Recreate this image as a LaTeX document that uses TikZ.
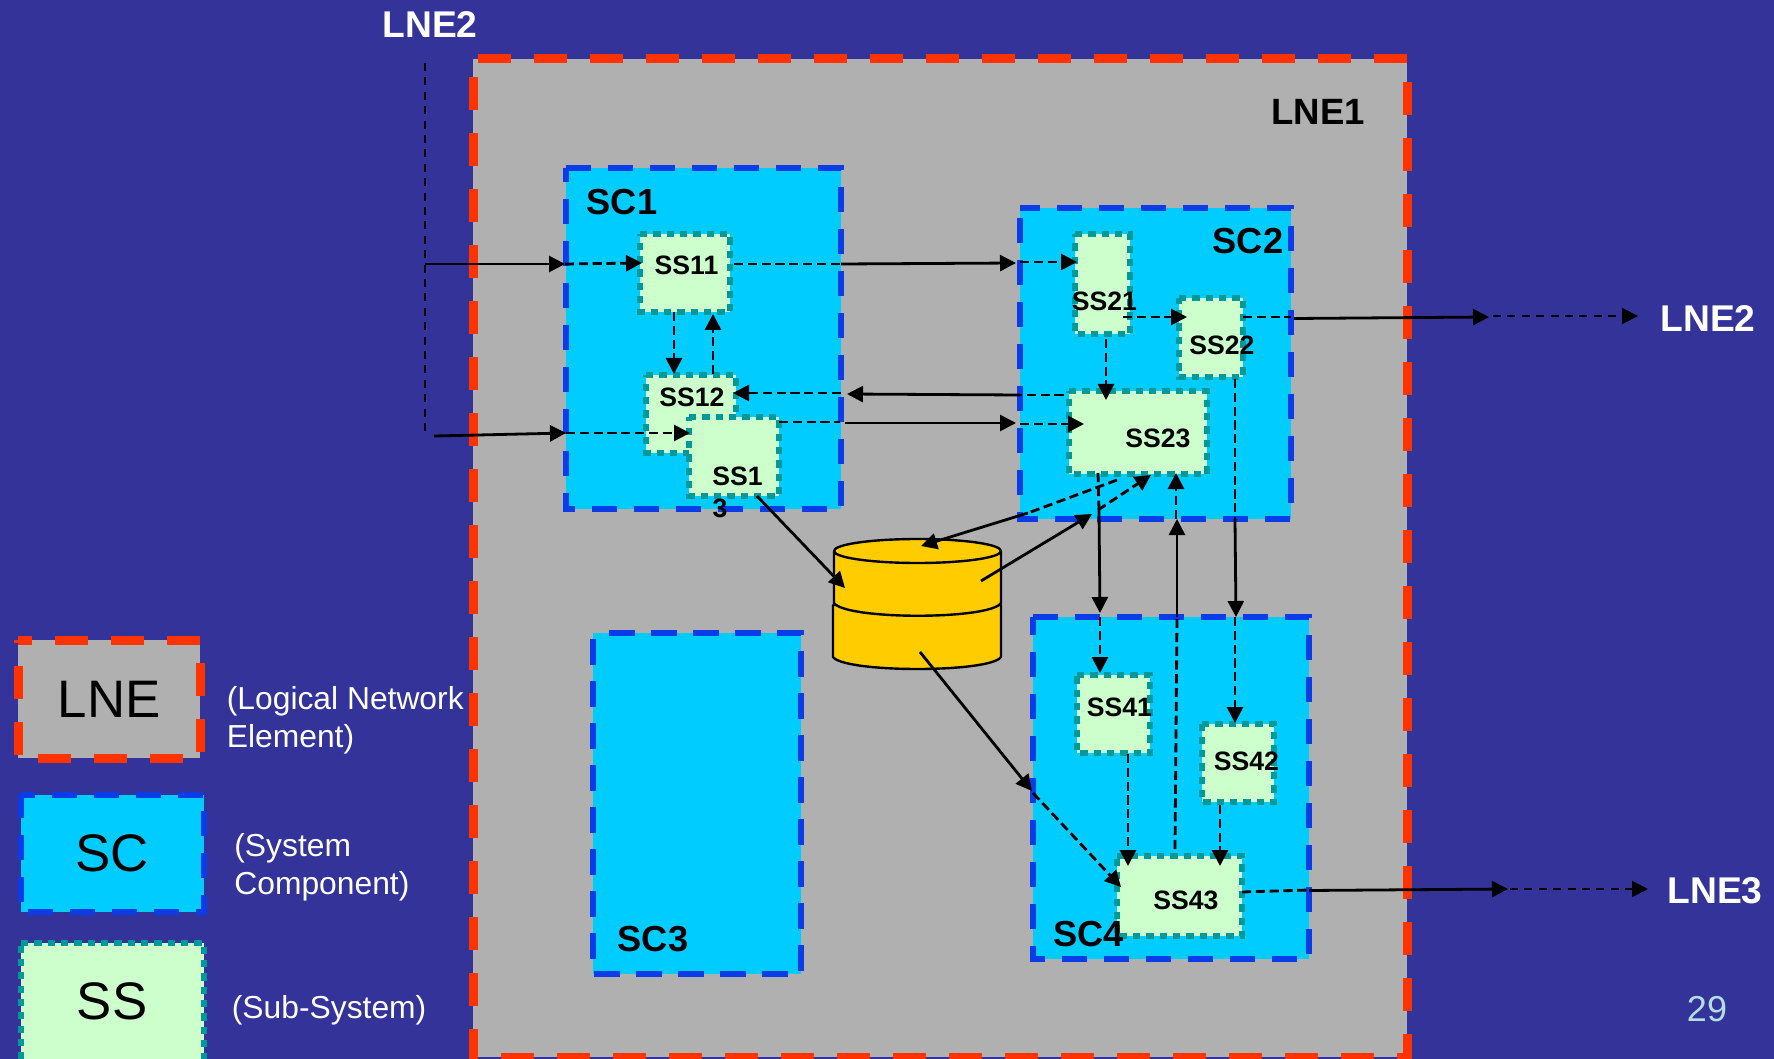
\documentclass[tikz,border=0pt]{standalone}
\usepackage{fontspec}
\setmainfont{Liberation Sans}
\usetikzlibrary{arrows.meta}
\definecolor{bgc}{HTML}{333399}
\definecolor{grayc}{HTML}{B0B0B0}
\definecolor{redc}{HTML}{FF3300}
\definecolor{bluec}{HTML}{0A3CE8}
\definecolor{cyanc}{HTML}{00CCFF}
\definecolor{ssc}{HTML}{CCFFCC}
\definecolor{tealc}{HTML}{009999}
\definecolor{yelc}{HTML}{FFCC00}
\definecolor{numc}{HTML}{B4DEE6}
\tikzset{
 fillbox/.style={rectangle,inner sep=0pt,outer sep=0pt,draw=none},
 lnering/.style={draw=redc,line width=4.5pt,dash pattern=on 16.6pt off 11.4pt},
 scring/.style={draw=bluec,line width=3.4pt,dash pattern=on 12.6pt off 8.4pt},
 ssring/.style={draw=tealc,line width=3.4pt,dash pattern=on 3.6pt off 3.07pt},
 blab/.style={inner sep=0pt,font=\bfseries\fontsize{13.3}{15}\selectfont,text=black},
 sclab/.style={inner sep=0pt,font=\bfseries\fontsize{18.1}{20}\selectfont,text=black},
 wlab/.style={inner sep=0pt,font=\bfseries\fontsize{18.6}{20}\selectfont,text=white},
 leglab/.style={inner sep=0pt,font=\fontsize{26.4}{28}\selectfont,text=black},
 desc/.style={inner sep=0pt,anchor=base west,font=\fontsize{15.9}{18}\selectfont,text=white},
 solidarrow/.style={draw=black,line width=1.4pt,-{Triangle[length=8pt,width=8pt]}},
 solidline/.style={draw=black,line width=1.4pt},
 dasharrow/.style={draw=black,line width=1.4pt,dash pattern=on 4.6pt off 2.3pt,-{Triangle[length=8pt,width=8pt,sep=0pt]}},
 dashline/.style={draw=black,line width=1.4pt,dash pattern=on 4.6pt off 2.3pt},
 thindash/.style={draw=black,line width=1pt,dash pattern=on 4pt off 3.2pt},
 thinarrow/.style={thindash,-{Triangle[length=8pt,width=8pt]}},
 dbshape/.style={draw=black,line width=1.2pt,fill=yelc,line join=round},
}
\newcommand\bx[7]{% name, fill, l,t,r,b, ring style
 \node[fillbox,fill=#2,minimum width={(#5-#3)*0.5pt},minimum height={(#6-#4)*0.5pt}] (#1) at ({(#3+#5)/2},{(#4+#6)/2}) {};
 \draw[#7] (#1.north west)--(#1.north east)--(#1.south east)--(#1.south west)--cycle;}
\begin{document}
\begin{tikzpicture}[x=0.5pt,y=-0.5pt]
\useasboundingbox (0,0) rectangle (1774,1059);
\clip (0,0) rectangle (1774,1059);
\fill[bgc] (0,0) rectangle (1774,1059);
% large boxes
\bx{LNE1}{grayc}{473}{59}{1407}{1057}{lnering,dash phase=25.7pt}
\bx{SC1}{cyanc}{566}{168}{841}{509}{scring}
\bx{SC2}{cyanc}{1020}{208}{1291}{519}{scring,dash phase=2.5pt}
\bx{SC3}{cyanc}{593}{633}{801}{974}{scring,dash phase=12.8pt}
\bx{SC4}{cyanc}{1033}{617}{1309}{959}{scring}
% subsystems
\bx{SS11}{ssc}{640}{234}{730}{312}{ssring}
\bx{SS12}{ssc}{646}{375}{736}{453}{ssring}
\node[blab] (tSS12) at (692,397) {SS12};
\bx{SS13}{ssc}{689}{417}{779}{496}{ssring}
\bx{SS21}{ssc}{1075}{234}{1130}{334}{ssring}
\bx{SS22}{ssc}{1179}{298}{1243}{377}{ssring}
\bx{SS23}{ssc}{1069}{391}{1207}{474}{ssring}
\bx{SS41}{ssc}{1077}{675}{1150}{753}{ssring}
\bx{SS42}{ssc}{1202}{724}{1274}{802}{ssring}
\bx{SS43}{ssc}{1117}{856}{1242}{936}{ssring}
% legend
\bx{legLNE}{grayc}{18}{640}{200}{758}{lnering,dash phase=9.6pt}
\bx{legSC}{cyanc}{21}{795}{204}{912}{scring,dash phase=5.6pt}
\bx{legSS}{ssc}{21}{943}{204}{1065}{ssring}
\node[leglab] (tLNE) at (109,699) {LNE};
\node[leglab] (tSC) at (112,853) {SC};
\node[leglab] (tSS) at (112,1001) {SS};
\node[desc] (d1) at (226.5,709) {(Logical Network};
\node[desc] (d1b) at (226.5,747) {Element)};
\node[desc] (d2) at (234,856) {(System};
\node[desc] (d2b) at (234,894) {Component)};
\node[desc] (d3) at (231.5,1018) {(Sub-System)};
% cylinder
\path[dbshape] (833,605) -- (833,657) .. controls (845,673) and (990,673) .. (1001,657) -- (1001,605) -- cycle;
\path[dbshape] (834,551) -- (834,603) .. controls (846,620) and (990,620) .. (1001,603) -- (1001,551) -- cycle;
\path[dbshape] (917.5,551) ellipse [x radius=83.5,y radius=12];
% labels
\node[blab] (tSS11) at (686.5,265.5) {SS11};
\node[blab] (tSS13a) at (737.5,476.5) {SS1};
\node[blab] (tSS13b) at (720,508.5) {3};
\node[blab] (tSS21) at (1104.5,301.5) {SS21};
\node[blab] (tSS22) at (1222,345.5) {SS22};
\node[blab] (tSS23) at (1158,438.5) {SS23};
\node[blab] (tSS41) at (1119.5,707.5) {SS41};
\node[blab] (tSS42) at (1246.5,761.5) {SS42};
\node[blab] (tSS43) at (1186,900.5) {SS43};
\node[sclab] (tSC1) at (622,202) {SC1};
\node[sclab] (tSC2) at (1248,241.5) {SC2};
\node[sclab] (tSC3) at (653,939) {SC3};
\node[sclab] (tSC4) at (1088.5,934) {SC4};
\node[sclab,font=\bfseries\fontsize{18.3}{20}\selectfont] (tLNE1) at (1318,111.5) {LNE1};
\node[wlab] (tLNE2a) at (430,25) {LNE2};
\node[wlab] (tLNE2b) at (1708,318.5) {LNE2};
\node[wlab] (tLNE3) at (1715,891) {LNE3};
\node[inner sep=0pt,text=numc,font=\fontsize{18}{20}\selectfont] (tnum) at (1707,1009) {29};
% connector end points
\coordinate (inTop) at (425,63);
\coordinate (inBot) at (425,435);
\coordinate (inA) at (425,264);
\coordinate (sc1A) at (565,264);
\coordinate (ss11in) at (642,263);
\coordinate (inB) at (434,436);
\coordinate (sc1B) at (566,433);
\coordinate (ss13in) at (690,433);
\coordinate (ss11out) at (734,264);
\coordinate (sc1C) at (841,264);
\coordinate (sc2A) at (1016,263);
\coordinate (sc2Ab) at (1020,262);
\coordinate (ss21in) at (1077,262);
\coordinate (p1) at (674,312);
\coordinate (p2) at (674,374);
\coordinate (p3) at (713,374);
\coordinate (p4) at (713,314);
\coordinate (p5) at (841,393);
\coordinate (ss12in) at (733,393);
\coordinate (p6) at (1020,395);
\coordinate (p7) at (847,394);
\coordinate (p8) at (1013,395);
\coordinate (p9) at (1066,395);
\coordinate (ss13out) at (779,422);
\coordinate (sc1D) at (840,422);
\coordinate (sc1Db) at (845,423);
\coordinate (sc2B) at (1016,423);
\coordinate (sc2Bb) at (1020,424);
\coordinate (ss23in) at (1084,424);
\coordinate (q1) at (1123,317);
\coordinate (q2) at (1187,317);
\coordinate (q3) at (1106,339);
\coordinate (q4) at (1106,400);
\coordinate (q5) at (1243,317);
\coordinate (q6) at (1291,317);
\coordinate (q7) at (1294,318.5);
\coordinate (q8) at (1489,317);
\coordinate (q9) at (1493,316);
\coordinate (q10) at (1638,316);
\coordinate (r1) at (1235,379);
\coordinate (r2) at (1235,519);
\coordinate (r3) at (1236,617);
\coordinate (r4) at (1235,617);
\coordinate (r5) at (1235,723);
\coordinate (s1) at (1098,473);
\coordinate (s2) at (1099,510);
\coordinate (s3) at (1100,613);
\coordinate (s4) at (1100,617);
\coordinate (s5) at (1100,673);
\coordinate (t1) at (1175,849);
\coordinate (t2) at (1177,617);
\coordinate (t3) at (1177,519);
\coordinate (t4) at (1176,519);
\coordinate (t5) at (1176,473);
\coordinate (u1) at (1117,480);
\coordinate (u2) at (1028,513);
\coordinate (u3) at (921,546);
\coordinate (v1) at (981,581);
\coordinate (v2) at (1092,514);
\coordinate (v3) at (1098,510);
\coordinate (v4) at (1151,475);
\coordinate (w1) at (757,496);
\coordinate (w2) at (845,588);
\coordinate (y1) at (920,652);
\coordinate (y2) at (1032,791);
\coordinate (y3) at (1033,793);
\coordinate (y4) at (1121,887);
\coordinate (z1) at (1128,754);
\coordinate (z2) at (1128,866);
\coordinate (z3) at (1220,805);
\coordinate (z4) at (1220,866);
\coordinate (o1) at (1242,892);
\coordinate (o2) at (1309,890);
\coordinate (o3) at (1309,890.5);
\coordinate (o4) at (1508,889);
\coordinate (o5) at (1510,889);
\coordinate (o6) at (1648,889);
% connectors
\draw[thindash] (inTop) -- (inBot);
\draw[solidarrow] (inA) -- (sc1A);
\draw[dasharrow] (sc1A) -- (ss11in);
\draw[solidarrow] (inB) -- (sc1B);
\draw[dasharrow] (sc1B) -- (ss13in);
\draw[dashline] (ss11out) -- (sc1C);
\draw[solidarrow] (sc1C) -- (sc2A);
\draw[dasharrow] (sc2Ab) -- (ss21in);
\draw[dasharrow] (p1) -- (p2);
\draw[dasharrow] (p3) -- (p4);
\draw[dasharrow] (p5) -- (ss12in);
\draw[solidarrow] (p6) -- (p7);
\draw[dashline] (p8) -- (p9);
\draw[dashline] (ss13out) -- (sc1D);
\draw[solidarrow] (sc1Db) -- (sc2B);
\draw[dasharrow] (sc2Bb) -- (ss23in);
\draw[dasharrow] (q1) -- (q2);
\draw[dasharrow] (q3) -- (q4);
\draw[dashline] (q5) -- (q6);
\draw[solidarrow] (q7) -- (q8);
\draw[thinarrow] (q9) -- (q10);
\draw[dashline] (r1) -- (r2);
\draw[solidarrow] (r2) -- (r3);
\draw[dasharrow] (r4) -- (r5);
\draw[dashline] (s1) -- (s2);
\draw[solidarrow] (s2) -- (s3);
\draw[dasharrow] (s4) -- (s5);
\draw[dashline] (t1) -- (t2);
\draw[solidarrow] (t2) -- (t3);
\draw[dasharrow] (t4) -- (t5);
\draw[dashline] (u1) -- (u2);
\draw[solidarrow] (u2) -- (u3);
\draw[solidarrow] (v1) -- (v2);
\draw[dasharrow] (v3) -- (v4);
\draw[solidarrow] (w1) -- (w2);
\draw[solidarrow] (y1) -- (y2);
\draw[dasharrow] (y3) -- (y4);
\draw[dasharrow] (z1) -- (z2);
\draw[dasharrow] (z3) -- (z4);
\draw[dashline] (o1) -- (o2);
\draw[solidarrow] (o3) -- (o4);
\draw[thinarrow] (o5) -- (o6);
\end{tikzpicture}
\end{document}
